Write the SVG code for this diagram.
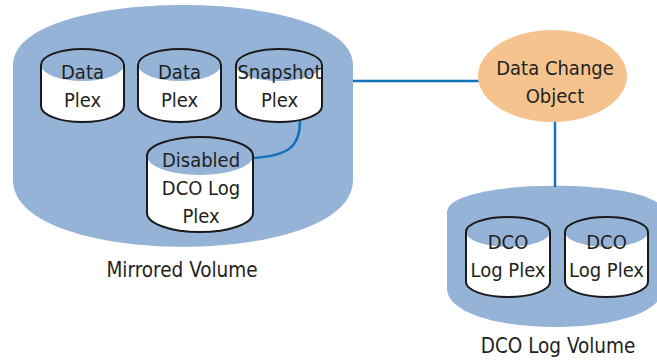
<svg xmlns="http://www.w3.org/2000/svg" width="657" height="364" viewBox="0 0 657 364">
  <style>
    .vol { fill: #95b3d7; stroke: none; }
    .body { fill: #ffffff; stroke: none; }
    .cap { fill: #95b3d7; stroke: none; }
    .rim { fill: none; stroke: #1a1a1a; stroke-width: 2; }
    .wire { fill: none; stroke: #1272b8; stroke-width: 2.5; }
    text { font-family: "DejaVu Sans Condensed", "DejaVu Sans", "Liberation Sans", sans-serif; font-stretch: condensed; font-size: 20px; fill: #231f20; text-anchor: middle; }
    .lbl { font-size: 20.5px; }
  </style>

  <!-- volumes -->
  <g id="mirrored-volume">
    <path class="vol" d="M13,65 C13,-15 353,-15 353,65 V180 C353,269 13,269 13,180 Z"/>
    <text class="lbl" x="182" y="277">Mirrored Volume</text>
  </g>
  <g id="dco-log-volume">
    <path class="vol" d="M447,212 C447,177 663,177 663,212 V288 C663,340 447,340 447,288 Z"/>
    <text class="lbl" x="558" y="353">DCO Log Volume</text>
  </g>

  <!-- connectors -->
  <g id="connectors">
    <path class="wire" d="M353,81 H479"/>
    <path class="wire" d="M555,121 V187"/>
    <path class="wire" d="M300,121 C300,146 289,156 253,158"/>
  </g>

  <g id="data-change-object">
    <ellipse cx="552.5" cy="76" rx="74.5" ry="46" fill="#f5c48e"/>
    <text x="555" y="75">Data Change</text>
    <text x="555" y="103">Object</text>
  </g>

  <g id="data-plex-1">
    <path class="body" d="M41,65 A41.5,16 0 0 1 124,65 V106 A41.5,16 0 0 1 41,106 Z"/>
    <ellipse class="cap" cx="82.5" cy="65" rx="41.5" ry="16"/>
    <path class="rim" d="M41,65 A41.5,16 0 0 1 124,65 V106 A41.5,16 0 0 1 41,106 Z"/>
    <text x="82.5" y="78.5">Data</text>
    <text x="82.5" y="107">Plex</text>
  </g>

  <g id="data-plex-2">
    <path class="body" d="M138,65 A41.5,16 0 0 1 221,65 V106 A41.5,16 0 0 1 138,106 Z"/>
    <ellipse class="cap" cx="179.5" cy="65" rx="41.5" ry="16"/>
    <path class="rim" d="M138,65 A41.5,16 0 0 1 221,65 V106 A41.5,16 0 0 1 138,106 Z"/>
    <text x="179.5" y="78.5">Data</text>
    <text x="179.5" y="107">Plex</text>
  </g>

  <g id="snapshot-plex">
    <path class="body" d="M236,65 A43,16 0 0 1 322,65 V106 A43,16 0 0 1 236,106 Z"/>
    <ellipse class="cap" cx="279" cy="65" rx="43" ry="16"/>
    <path class="rim" d="M236,65 A43,16 0 0 1 322,65 V106 A43,16 0 0 1 236,106 Z"/>
    <text x="279.5" y="78.5">Snapshot</text>
    <text x="279.5" y="107">Plex</text>
  </g>

  <g id="disabled-dco-log-plex">
    <path class="body" d="M147,156 A53,19 0 0 1 253,156 V213 A53,19 0 0 1 147,213 Z"/>
    <ellipse class="cap" cx="200" cy="156" rx="53" ry="19"/>
    <path class="rim" d="M147,156 A53,19 0 0 1 253,156 V213 A53,19 0 0 1 147,213 Z"/>
    <text x="201" y="167">Disabled</text>
    <text x="201" y="195">DCO Log</text>
    <text x="201" y="223">Plex</text>
  </g>

  <g id="dco-log-plex-1">
    <path class="body" d="M466,232 A42,15 0 0 1 550,232 V282 A42,15 0 0 1 466,282 Z"/>
    <ellipse class="cap" cx="508" cy="232" rx="42" ry="15"/>
    <path class="rim" d="M466,232 A42,15 0 0 1 550,232 V282 A42,15 0 0 1 466,282 Z"/>
    <text x="508" y="249">DCO</text>
    <text x="508" y="277">Log Plex</text>
  </g>

  <g id="dco-log-plex-2">
    <path class="body" d="M565,232 A41.5,15 0 0 1 648,232 V282 A41.5,15 0 0 1 565,282 Z"/>
    <ellipse class="cap" cx="606.5" cy="232" rx="41.5" ry="15"/>
    <path class="rim" d="M565,232 A41.5,15 0 0 1 648,232 V282 A41.5,15 0 0 1 565,282 Z"/>
    <text x="606.5" y="249">DCO</text>
    <text x="606.5" y="277">Log Plex</text>
  </g>
</svg>
